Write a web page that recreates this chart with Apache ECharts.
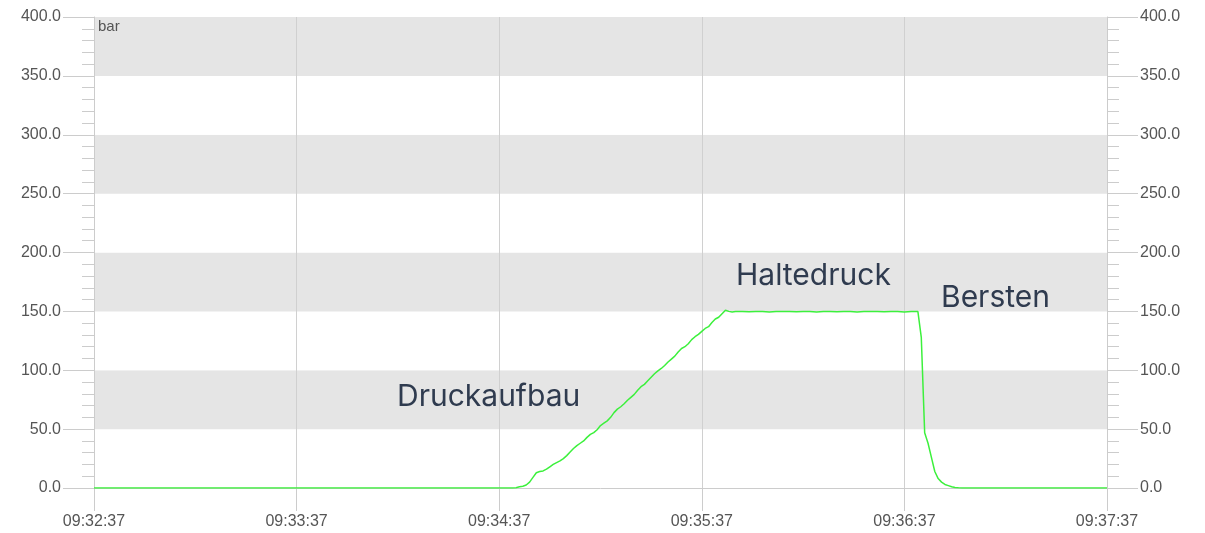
<!DOCTYPE html>
<html>
<head>
<meta charset="utf-8">
<script src="https://cdn.jsdelivr.net/npm/echarts@6/dist/echarts.min.js"></script>
<style>
  html, body { margin: 0; padding: 0; background: #fff; }
  #main { width: 1205px; height: 533px; }
</style>
</head>
<body>
<div id="main"></div>
<script>
// Startzeit der Messung
var startTime = [9, 32, 37];

// Sekunden seit Start
var seconds = [
  0, 30, 60, 90, 120, 124, 125, 126, 127, 128, 129, 130, 131, 132, 133, 134, 135, 136, 137, 138, 139,
  140, 141, 142, 143, 144, 145, 146, 147, 148, 149, 150, 151, 152, 153, 154, 155, 156, 157, 158, 159,
  160, 161, 162, 163, 164, 165, 166, 167, 168, 169, 170, 171, 172, 173, 174, 175, 176, 177, 178, 179,
  180, 181, 182, 183, 184, 185, 186, 187, 188, 189, 190, 192, 194, 196, 198, 200, 202, 204, 206, 208,
  210, 212, 214, 216, 218, 220, 222, 224, 226, 228, 230, 232, 234, 236, 238, 240, 242, 244,
  245, 246, 247, 248, 249, 250, 251, 252, 253, 254, 255, 256, 257, 260, 280, 300
];

// Druck in bar
var pressure = [
  0, 0, 0, 0, 0, 0, 0.3, 1, 1.5, 2.5, 5, 9, 13, 14, 14.5, 16, 18, 20, 21.5, 23, 25,
  27.5, 30.5, 33.5, 36, 38, 40, 43, 45.5, 47, 49.5, 53, 55, 57, 60, 64, 67, 69, 71.5, 74.5, 77,
  79.5, 83, 86, 88, 91, 94, 97, 99.5, 101.5, 104, 107, 109.5, 112, 115.5, 118.5, 120, 122.5, 126, 128.5, 130.5,
  133, 135.5, 137, 140.5, 143.5, 145, 148, 151, 150, 149.5, 149.8, 149.9, 149.6, 149.9, 149.8, 149.5, 149.9, 149.8, 149.9, 149.6,
  149.8, 149.9, 149.5, 149.8, 149.9, 149.6, 149.8, 149.9, 149.5, 149.8, 149.9, 149.8, 149.6, 149.9, 149.8, 149.4, 149.8, 149.8,
  128, 47, 38, 26, 14, 8, 5, 3, 2, 1, 0.5, 0.2, 0, 0, 0, 0
];

var yTicks = [0, 50, 100, 150, 200, 250, 300, 350, 400];

var annotations = [
  { text: 'Druckaufbau', x: 397, y: 397 },
  { text: 'Haltedruck', x: 736, y: 276 },
  { text: 'Bersten', x: 941, y: 298 }
];

function pad(n) { return n < 10 ? '0' + n : '' + n; }
function clock(sec) {
  var total = startTime[0] * 3600 + startTime[1] * 60 + startTime[2] + sec;
  return pad(Math.floor(total / 3600)) + ':' + pad(Math.floor(total / 60) % 60) + ':' + pad(total % 60);
}

var data = seconds.map(function (s, i) { return [s, pressure[i]]; });

var myChart = echarts.init(document.getElementById('main'));

var labelStyle = { color: '#555', fontSize: 16, fontFamily: 'Liberation Sans, Arial, sans-serif' };

function yAxis(pos) {
  return {
    type: 'value',
    position: pos,
    min: yTicks[0],
    max: yTicks[yTicks.length - 1],
    interval: 50,
    splitNumber: 8,
    axisLine: { show: true, lineStyle: { color: '#ccc' } },
    axisTick: { show: true, length: 31, lineStyle: { color: '#ccc' } },
    minorTick: { show: true, splitNumber: 5, length: 12, lineStyle: { color: '#ccc' } },
    axisLabel: Object.assign({ margin: 33, formatter: function (v) { return v.toFixed(1); } }, labelStyle),
    splitLine: { show: false },
    splitArea: pos === 'left' ? { show: true, areaStyle: { color: ['#ffffff', '#e5e5e5'] } } : { show: false }
  };
}

var option = {
  animation: false,
  backgroundColor: '#fff',
  grid: { left: 94, right: 98, top: 17, bottom: 45 },
  xAxis: {
    type: 'value',
    min: 0,
    max: 300,
    interval: 60,
    axisLine: { show: true, onZero: false, lineStyle: { color: '#ccc' } },
    axisTick: { show: true, length: 23, lineStyle: { color: '#ccc' } },
    axisLabel: Object.assign({ margin: 26, formatter: function (v) { return clock(v); } }, labelStyle),
    splitLine: { show: true, lineStyle: { color: '#d0d0d0', width: 1 } }
  },
  yAxis: [yAxis('left'), yAxis('right')],
  graphic: [
    {
      type: 'text', left: 98, top: 19, z: 10,
      style: { text: 'bar', fill: '#555', font: '15px Liberation Sans, Arial, sans-serif' }
    }
  ].concat(annotations.map(function (a) {
    return {
      type: 'text', x: a.x, y: a.y, z: 10,
      style: {
        text: a.text, fill: '#2f3b4f', textVerticalAlign: 'middle',
        font: '30px Inter, sans-serif'
      }
    };
  })),
  series: [{
    name: 'Druck',
    type: 'line',
    data: data,
    showSymbol: false,
    symbol: 'none',
    lineStyle: { color: '#3cf03c', width: 1.5 }
  }]
};

myChart.setOption(option);
</script>
</body>
</html>
